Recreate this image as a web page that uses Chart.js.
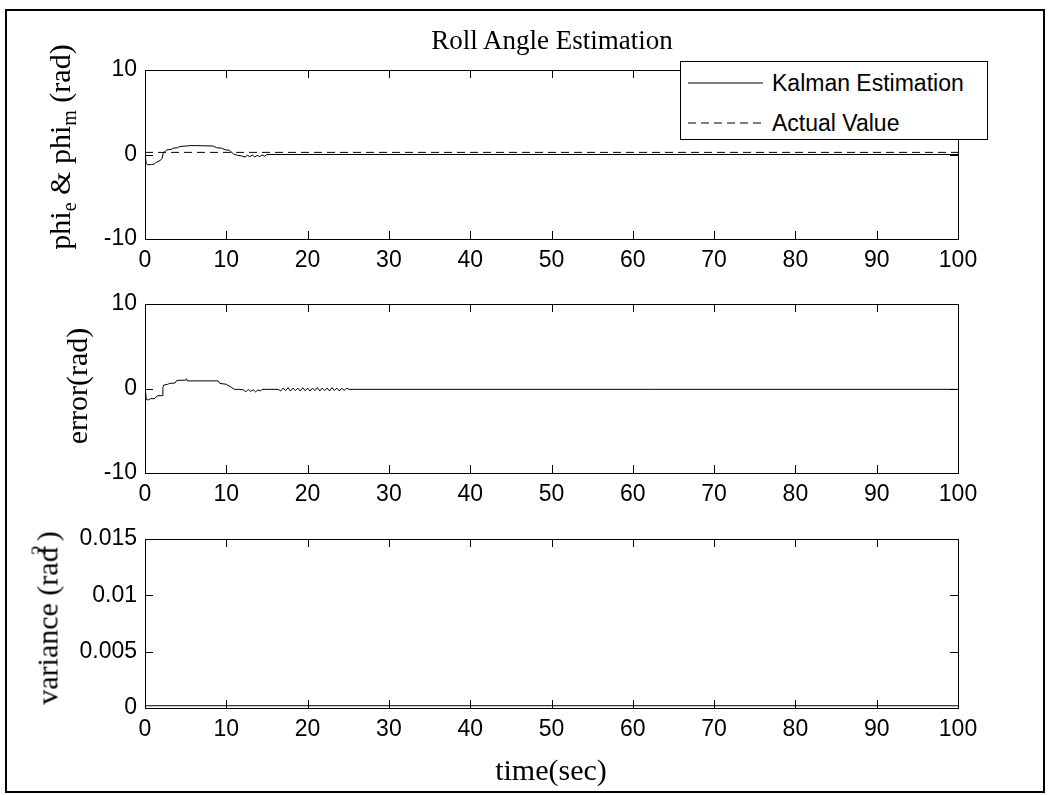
<!DOCTYPE html>
<html lang="en">
<head>
<meta charset="utf-8" />
<title>Roll Angle Estimation</title>
<script src="https://cdn.jsdelivr.net/npm/chart.js@4.4.1/dist/chart.umd.min.js"></script>
<style>
  body { margin: 0; background: #fff; }
  #fig { position: relative; width: 1049px; height: 795px; overflow: hidden; }
  #fig canvas { position: absolute; left: 0; top: 0; }
  .frame { position: absolute; left: 5px; top: 9px; width: 1036px; height: 780px; border: 2px solid #000; }
  .serif { position: absolute; font-family: 'Liberation Serif', 'Times New Roman', serif; color: #000; white-space: nowrap; }
  .ylab { transform: translate(-50%, -50%) rotate(-90deg); font-size: 30px; }
  .ylab sub { font-size: 20px; vertical-align: -6px; }
  .ylab sup { font-size: 20px; vertical-align: 12px; margin-left: -8px; margin-right: 4px; }
  .legend { position: absolute; left: 680px; top: 61px; width: 306px; height: 77px; border: 1px solid #000; background: #fff;
            font-family: 'Liberation Sans', Arial, sans-serif; font-size: 23px; }
  .legend .row { position: absolute; left: 7px; height: 30px; display: flex; align-items: center; }
  .legend svg { margin-right: 9px; }
</style>
</head>
<body>
<div id="fig">
  <div class="frame"></div>
  <canvas id="chartAngle" width="1049" height="795"></canvas>
  <canvas id="chartError" width="1049" height="795"></canvas>
  <canvas id="chartVar" width="1049" height="795"></canvas>

  <div class="serif" style="left:552px; top:40px; transform:translate(-50%,-50%); font-size:27px;">Roll Angle Estimation</div>
  <div class="serif ylab" style="left:62px; top:147px;">phi<sub>e</sub> &amp; phi<sub>m</sub> (rad)</div>
  <div class="serif ylab" style="left:77px; top:386px;">error(rad)</div>
  <div class="serif ylab" style="left:46px; top:618px;">variance (rad<sup>2</sup>)</div>
  <div class="serif" style="left:551px; top:770px; transform:translate(-50%,-50%); font-size:30px;">time(sec)</div>

  <div class="legend">
    <div class="row" style="top:6px;">
      <svg width="75" height="4"><line x1="0" y1="2" x2="75" y2="2" stroke="#000" stroke-width="1" /></svg>
      <span>Kalman Estimation</span>
    </div>
    <div class="row" style="top:46px;">
      <svg width="75" height="4"><line x1="0" y1="2" x2="75" y2="2" stroke="#000" stroke-width="1" stroke-dasharray="8,5" /></svg>
      <span>Actual Value</span>
    </div>
  </div>
</div>

<script>
// time axis
const xTicks = [0, 10, 20, 30, 40, 50, 60, 70, 80, 90, 100];
const angleTicks = [-10, 0, 10];
const varTicks = [0, 0.005, 0.01, 0.015];

// kalman estimate of roll angle (rad)
const estTime = [0, 0.1, 0.15, 0.3, 0.8, 1.2, 1.4, 1.6, 2.0, 2.1, 2.25, 2.5, 2.7, 3.2, 3.5, 4.0, 4.3, 5.0, 5.5,
  6.5, 8.4, 8.8, 9.4, 9.9, 10.4, 10.6, 10.9, 11.4, 11.8, 12.3, 12.6, 12.9, 13.2, 13.5, 13.8, 14.1, 14.4, 14.7, 15.0, 100];
const estValue = [0.25, 0.25, -1.1, -1.2, -1.2, -1.1, -0.9, -0.85, -0.6, -0.45, 0.2, 0.4, 0.55, 0.6, 0.75, 0.8, 0.95, 1.0, 1.05,
  1.05, 1.0, 0.8, 0.75, 0.55, 0.5, 0.3, 0.05, -0.1, -0.15, -0.3, -0.1, -0.25, -0.05, -0.3, -0.1, -0.25, -0.05, -0.2, 0, 0];

// measured / actual roll angle
const actualTime = [0, 100];
const actualValue = [0.25, 0.25];

// estimation error (rad)
const errTime = [0, 0.1, 0.15, 0.4, 0.7, 1.2, 1.4, 1.6, 2.1, 2.2, 2.3, 2.8, 3.0, 3.7, 3.9, 5.0, 5.1, 5.2, 9.0, 9.2,
  10.0, 10.6, 11.0, 11.5, 12.1, 12.4, 12.7, 13.0, 13.3, 13.6, 13.9, 14.2, 14.4, 16.4,
  16.7, 17.0, 17.3, 17.6, 17.9, 18.2, 18.5, 18.8, 19.1, 19.4, 19.7, 20.0, 20.3, 20.6, 20.9, 21.2, 21.5,
  21.8, 22.1, 22.4, 22.7, 23.0, 23.3, 23.6, 23.9, 24.2, 24.5, 24.8, 25.1, 100];
const errValue = [0.4, 0.4, -1.3, -1.35, -1.2, -1.2, -0.95, -0.85, -0.85, 0.1, 0.4, 0.5, 0.6, 0.65, 0.95, 1.0, 1.15, 0.9, 0.9, 0.6,
  0.5, 0.15, -0.1, -0.1, -0.15, -0.4, -0.1, -0.35, -0.15, -0.4, -0.15, -0.3, -0.1, -0.1,
  -0.3, 0.05, -0.25, 0.1, -0.3, 0.05, -0.25, 0.05, -0.3, 0.1, -0.25, 0.05, -0.3, 0.05, -0.25, 0.1, -0.3,
  0.05, -0.25, 0.05, -0.3, 0.1, -0.25, 0.05, -0.3, 0.05, -0.25, 0.05, -0.1, -0.1];

// estimation variance (rad^2)
const varTime = [0, 100];
const varValue = [0.0002, 0.0002];

const tickFont = { family: "'Liberation Sans', Arial, sans-serif", size: 23 };

function pts(xs, ys) {
  return xs.map((x, i) => ({ x: x, y: ys[i] }));
}

// box around the plot area with inward ticks on all four sides
const boxTicks = {
  id: 'boxTicks',
  afterDraw(chart) {
    const { ctx, chartArea: a, scales } = chart;
    const len = 8;
    ctx.save();
    ctx.strokeStyle = '#000';
    ctx.lineWidth = 1;
    ctx.beginPath();
    scales.x.ticks.forEach(t => {
      const px = Math.round(scales.x.getPixelForValue(t.value)) + 0.5;
      ctx.moveTo(px, a.bottom); ctx.lineTo(px, a.bottom - len);
      ctx.moveTo(px, a.top); ctx.lineTo(px, a.top + len);
    });
    scales.y.ticks.forEach(t => {
      const py = Math.round(scales.y.getPixelForValue(t.value)) + 0.5;
      ctx.moveTo(a.left, py); ctx.lineTo(a.left + len, py);
      ctx.moveTo(a.right, py); ctx.lineTo(a.right - len, py);
    });
    ctx.stroke();
    ctx.strokeRect(Math.round(a.left) + 0.5, Math.round(a.top) + 0.5, Math.round(a.width), Math.round(a.height));
    ctx.restore();
  }
};

function makeChart(id, datasets, yMin, yMax, yTicks, top, bottom) {
  return new Chart(document.getElementById(id), {
    type: 'scatter',
    data: { datasets: datasets },
    options: {
      responsive: false,
      animation: false,
      events: [],
      layout: { padding: { left: 0, right: 1049 - 958, top: top, bottom: 795 - bottom - 40 } },
      plugins: { legend: { display: false }, tooltip: { enabled: false } },
      elements: { point: { radius: 0 }, line: { tension: 0 } },
      scales: {
        x: {
          type: 'linear', min: 0, max: 100,
          afterBuildTicks: s => { s.ticks = xTicks.map(v => ({ value: v })); },
          afterFit: s => { s.height = 40; },
          grid: { display: false, drawTicks: false },
          border: { display: false },
          ticks: { font: tickFont, color: '#000', padding: 8, maxRotation: 0, autoSkip: false }
        },
        y: {
          type: 'linear', min: yMin, max: yMax,
          afterBuildTicks: s => { s.ticks = yTicks.map(v => ({ value: v })); },
          afterFit: s => { s.width = 145; },
          grid: { display: false, drawTicks: false },
          border: { display: false },
          ticks: { font: tickFont, color: '#000', padding: 8, autoSkip: false, callback: v => String(v) }
        }
      }
    },
    plugins: [boxTicks]
  });
}

makeChart('chartAngle', [
  { data: pts(estTime, estValue), showLine: true, borderColor: '#000', borderWidth: 1 },
  { data: pts(actualTime, actualValue), showLine: true, borderColor: '#000', borderWidth: 1, borderDash: [8, 5] }
], -10, 10, angleTicks, 70, 239);

makeChart('chartError', [
  { data: pts(errTime, errValue), showLine: true, borderColor: '#000', borderWidth: 1 }
], -10, 10, angleTicks, 304, 473);

makeChart('chartVar', [
  { data: pts(varTime, varValue), showLine: true, borderColor: '#000', borderWidth: 1 }
], 0, 0.015, varTicks, 539, 708);
</script>
</body>
</html>
